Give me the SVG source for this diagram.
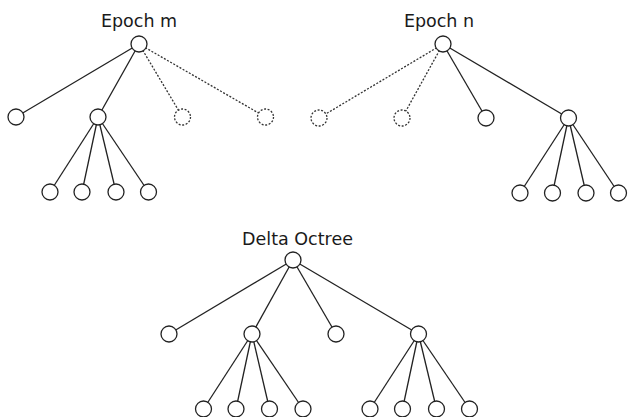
<svg xmlns="http://www.w3.org/2000/svg" width="630" height="417" viewBox="0 0 630 417">
  <style>
    .edge { stroke: #222; stroke-width: 1.3; fill: none; }
    .edge.gone { stroke: #333; stroke-dasharray: 2 1.6; }
    .node { fill: #fff; stroke: #222; stroke-width: 1.3; }
    .node.gone { stroke: #333; stroke-dasharray: 2 1.6; }
    .title { font-family: "DejaVu Sans", Verdana, sans-serif; font-size: 17.5px; fill: #1a1a1a; text-anchor: middle; }
  </style>
  <rect width="630" height="417" fill="#fff"/>

  <!-- connectors -->
  <g id="connectors">
    <!-- Epoch m -->
    <line class="edge" x1="139" y1="44" x2="16" y2="117"/>
    <line class="edge" x1="139" y1="44" x2="98" y2="117"/>
    <line class="edge gone" x1="139" y1="44" x2="182.5" y2="117"/>
    <line class="edge gone" x1="139" y1="44" x2="265.5" y2="117"/>
    <line class="edge" x1="98" y1="117" x2="50" y2="192"/>
    <line class="edge" x1="98" y1="117" x2="82" y2="192"/>
    <line class="edge" x1="98" y1="117" x2="116" y2="192"/>
    <line class="edge" x1="98" y1="117" x2="148.5" y2="192"/>
    <!-- Epoch n -->
    <line class="edge gone" x1="443" y1="44" x2="319" y2="118"/>
    <line class="edge gone" x1="443" y1="44" x2="402" y2="118"/>
    <line class="edge" x1="443" y1="44" x2="486" y2="118"/>
    <line class="edge" x1="443" y1="44" x2="568.5" y2="118"/>
    <line class="edge" x1="568.5" y1="118" x2="520" y2="193"/>
    <line class="edge" x1="568.5" y1="118" x2="552.5" y2="193"/>
    <line class="edge" x1="568.5" y1="118" x2="586" y2="193"/>
    <line class="edge" x1="568.5" y1="118" x2="618.5" y2="193"/>
    <!-- Delta Octree -->
    <line class="edge" x1="293" y1="260" x2="169" y2="334"/>
    <line class="edge" x1="293" y1="260" x2="252" y2="334"/>
    <line class="edge" x1="293" y1="260" x2="336" y2="334"/>
    <line class="edge" x1="293" y1="260" x2="418.5" y2="334"/>
    <line class="edge" x1="252" y1="334" x2="203.5" y2="409"/>
    <line class="edge" x1="252" y1="334" x2="236" y2="409"/>
    <line class="edge" x1="252" y1="334" x2="269.5" y2="409"/>
    <line class="edge" x1="252" y1="334" x2="303" y2="409"/>
    <line class="edge" x1="418.5" y1="334" x2="370" y2="409"/>
    <line class="edge" x1="418.5" y1="334" x2="402.5" y2="409"/>
    <line class="edge" x1="418.5" y1="334" x2="436.5" y2="409"/>
    <line class="edge" x1="418.5" y1="334" x2="469.5" y2="409"/>
  </g>

  <!-- Epoch m tree -->
  <g id="epoch-m">
    <text class="title" x="139" y="26.5">Epoch m</text>
    <circle id="m-root" class="node" cx="139" cy="44" r="8"/>
    <circle id="m-c0" class="node" cx="16" cy="117" r="8"/>
    <circle id="m-c1" class="node" cx="98" cy="117" r="8"/>
    <circle id="m-c2" class="node gone" cx="182.5" cy="117" r="8"/>
    <circle id="m-c3" class="node gone" cx="265.5" cy="117" r="8"/>
    <circle id="m-c1-0" class="node" cx="50" cy="192" r="8"/>
    <circle id="m-c1-1" class="node" cx="82" cy="192" r="8"/>
    <circle id="m-c1-2" class="node" cx="116" cy="192" r="8"/>
    <circle id="m-c1-3" class="node" cx="148.5" cy="192" r="8"/>
  </g>

  <!-- Epoch n tree -->
  <g id="epoch-n">
    <text class="title" x="439" y="26.5">Epoch n</text>
    <circle id="n-root" class="node" cx="443" cy="44" r="8"/>
    <circle id="n-c0" class="node gone" cx="319" cy="118" r="8"/>
    <circle id="n-c1" class="node gone" cx="402" cy="118" r="8"/>
    <circle id="n-c2" class="node" cx="486" cy="118" r="8"/>
    <circle id="n-c3" class="node" cx="568.5" cy="118" r="8"/>
    <circle id="n-c3-0" class="node" cx="520" cy="193" r="8"/>
    <circle id="n-c3-1" class="node" cx="552.5" cy="193" r="8"/>
    <circle id="n-c3-2" class="node" cx="586" cy="193" r="8"/>
    <circle id="n-c3-3" class="node" cx="618.5" cy="193" r="8"/>
  </g>

  <!-- Delta Octree tree -->
  <g id="delta-octree">
    <text class="title" x="297.5" y="244.5">Delta Octree</text>
    <circle id="d-root" class="node" cx="293" cy="260" r="8"/>
    <circle id="d-c0" class="node" cx="169" cy="334" r="8"/>
    <circle id="d-c1" class="node" cx="252" cy="334" r="8"/>
    <circle id="d-c2" class="node" cx="336" cy="334" r="8"/>
    <circle id="d-c3" class="node" cx="418.5" cy="334" r="8"/>
    <circle id="d-c1-0" class="node" cx="203.5" cy="409" r="8"/>
    <circle id="d-c1-1" class="node" cx="236" cy="409" r="8"/>
    <circle id="d-c1-2" class="node" cx="269.5" cy="409" r="8"/>
    <circle id="d-c1-3" class="node" cx="303" cy="409" r="8"/>
    <circle id="d-c3-0" class="node" cx="370" cy="409" r="8"/>
    <circle id="d-c3-1" class="node" cx="402.5" cy="409" r="8"/>
    <circle id="d-c3-2" class="node" cx="436.5" cy="409" r="8"/>
    <circle id="d-c3-3" class="node" cx="469.5" cy="409" r="8"/>
  </g>
</svg>
